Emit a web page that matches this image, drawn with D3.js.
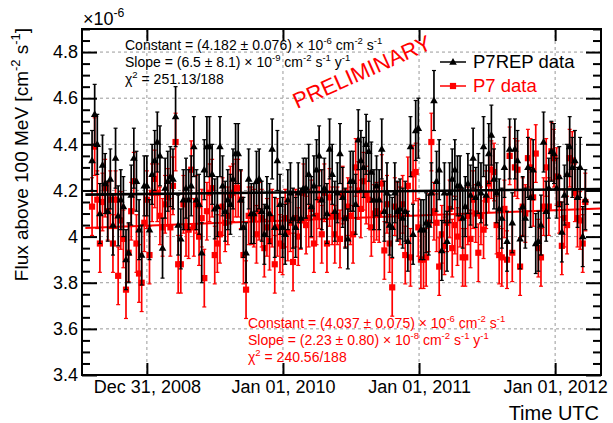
<!DOCTYPE html>
<html><head><meta charset="utf-8">
<script src="https://cdn.jsdelivr.net/npm/d3@7"></script>
<style>body{margin:0;background:#fff} svg text{font-family:"Liberation Sans",Arial,Helvetica,sans-serif}</style>
</head><body><svg id="c" width="613" height="423"></svg>
<script>
// ---- data ----
const firstBinCenter = "2008-08-07";
const binDays = 7;
const p7repFlux = [
4.33,4.53,4.40,4.10,4.31,4.23,4.11,4.25,4.05,4.34,4.09,4.16,4.13,3.90,3.93,4.18,4.34,4.24,4.03,3.92,4.22,4.22,4.03,4.27,4.33,4.41,4.35,3.95,4.21,4.24,4.26,4.25,4.52,4.05,3.99,4.16,
4.21,4.16,4.22,4.39,4.16,4.14,3.93,4.29,4.39,4.39,4.27,4.12,4.13,4.39,4.22,4.11,4.16,4.14,4.25,4.36,4.36,4.16,4.04,3.93,4.25,4.10,4.10,4.24,4.25,4.11,4.01,4.13,4.10,4.38,4.04,4.33,4.14,4.04,4.01,4.16,
4.19,4.08,4.04,4.19,4.08,4.21,4.21,4.27,4.13,4.22,4.29,4.35,4.16,4.21,4.10,4.38,4.27,4.11,4.19,4.36,4.17,4.08,3.99,4.24,4.24,4.14,4.42,4.33,4.30,4.40,4.37,4.28,4.16,4.22,4.16,4.38,4.11,4.19,4.05,4.04,
4.19,4.11,4.12,4.08,4.11,3.98,4.39,4.01,4.46,4.47,4.03,4.03,4.06,4.05,4.19,4.59,4.24,4.29,3.94,4.19,3.98,4.19,4.25,4.29,4.22,4.22,4.08,4.13,4.23,4.18,4.34,4.17,4.23,4.19,4.39,4.18,4.36,4.44,4.25,4.19,
4.12,4.08,4.30,3.98,4.38,4.06,4.38,4.33,3.99,4.13,4.08,4.30,4.17,4.29,3.97,3.98,4.05,4.41,4.11,4.21,4.37,4.36,4.21,4.26,4.02,4.18,4.27,4.39,4.30,4.33,4.17,4.30,4.00,4.16];
const p7Flux = [
4.13,4.39,4.16,3.97,4.15,4.21,4.11,4.16,3.97,4.16,3.83,4.07,3.99,3.77,3.93,4.11,4.24,3.97,3.84,3.80,4.06,4.16,3.92,4.19,4.25,4.19,4.09,4.04,4.14,4.17,4.04,4.22,4.41,3.88,3.88,4.14,
4.04,4.03,4.29,4.04,4.14,4.00,4.08,3.82,4.11,4.19,4.21,3.92,3.97,4.01,4.13,4.06,4.09,4.18,4.19,4.21,4.21,4.16,3.92,3.77,4.09,4.09,4.08,4.01,4.11,4.08,3.95,4.04,3.98,4.08,3.88,4.04,3.97,3.96,4.08,4.02,
4.06,3.89,4.08,4.00,4.07,4.19,4.05,4.08,4.12,3.97,4.09,4.16,4.01,4.19,3.97,4.17,4.09,4.01,4.09,3.99,4.18,4.08,4.13,4.09,4.01,4.30,4.20,4.12,4.24,4.18,4.16,4.04,4.10,4.11,4.10,4.23,3.94,4.14,3.97,3.78,
4.13,4.11,4.09,4.14,3.92,4.22,3.91,4.27,4.28,4.04,3.90,3.90,3.91,4.06,4.41,4.11,4.06,3.87,4.01,3.96,4.06,4.12,3.95,4.05,4.00,4.08,3.91,3.91,4.09,3.99,4.16,4.10,3.93,4.09,4.03,4.16,4.23,4.29,4.28,4.05,
3.92,3.91,4.12,3.90,4.35,3.93,4.30,4.29,3.87,4.13,4.10,4.34,4.30,4.17,4.36,3.95,3.91,4.13,4.30,4.13,4.37,4.34,4.26,4.14,3.96,4.08,4.05,4.34,4.33,4.19,4.08,4.07,3.97,4.15];
const p7repErr = 0.13;
const p7Err = 0.125;
const fitStart = "2008-07-20";
const fitEnd = "2012-05-02";
const p7repFit = [4.182, 0.0065];   // constant, slope per year (1e-6 units)
const p7Fit = [4.037, 0.0223];
const xDomain = ["2008-07-11", "2012-05-03"];
const xTickDates = ["2009-01-01","2010-01-01","2011-01-01","2012-01-01"];
const xTickLabels = ["Dec 31, 2008","Jan 01, 2010","Jan 01, 2011","Jan 01, 2012"];
const yDomain = [3.4, 4.9];
const yTicks = [3.4,3.6,3.8,4.0,4.2,4.4,4.6,4.8];
const yTickLabels = ["3.4","3.6","3.8","4","4.2","4.4","4.6","4.8"];
const yMinorTicks = d3.range(68, 99).map(v => v / 20);

// ---- layout ----
const L = 82, R = 601, T = 29, B = 375;
const svg = d3.select("#c");
const x = d3.scaleUtc().domain(xDomain.map(d => new Date(d))).range([L, R]);
const y = d3.scaleLinear().domain(yDomain).range([B, T]);
const t0 = new Date(firstBinCenter);
const dateOf = i => d3.utcDay.offset(t0, binDays * i);

// grid
const grid = svg.append("g").attr("stroke", "#9a9a9a").attr("stroke-width", 1).attr("stroke-dasharray", "3,3");
grid.selectAll(".gy").data(yTicks.filter(v => v > yDomain[0])).join("line")
  .attr("x1", L).attr("x2", R).attr("y1", d => y(d)).attr("y2", d => y(d));
grid.selectAll(".gx").data(xTickDates).join("line")
  .attr("x1", d => x(new Date(d))).attr("x2", d => x(new Date(d))).attr("y1", T).attr("y2", B);

// series drawing
function drawSeries(vals, err, color, marker, sw) {
  const g = svg.append("g");
  const pts = vals.map((v, i) => ({ d: dateOf(i), v }));
  g.selectAll("line.e").data(pts).join("line")
    .attr("x1", p => x(p.d)).attr("x2", p => x(p.d))
    .attr("y1", p => y(p.v - err)).attr("y2", p => y(p.v + err))
    .attr("stroke", color).attr("stroke-width", sw);
  [-1, 1].forEach(s => {
    g.selectAll("line.c" + s).data(pts).join("line")
      .attr("x1", p => x(p.d) - 2).attr("x2", p => x(p.d) + 2)
      .attr("y1", p => y(p.v + s * err)).attr("y2", p => y(p.v + s * err))
      .attr("stroke", color).attr("stroke-width", 1.2);
  });
  g.selectAll("path.m").data(pts).join("path")
    .attr("d", p => marker(x(p.d), y(p.v))).attr("fill", color);
}
const tri = (cx, cy) => `M${cx - 3.8},${cy + 2.7}L${cx + 3.8},${cy + 2.7}L${cx},${cy - 4}Z`;
const sq = (cx, cy) => `M${cx - 3.1},${cy - 3.1}h6.2v6.2h-6.2Z`;

function drawFit(par, color, w) {
  const a = new Date(fitStart), b = new Date(fitEnd);
  const yrs = d => (d - new Date(fitStart)) / (365.25 * 864e5);
  svg.append("line").attr("x1", x(a)).attr("x2", x(b))
    .attr("y1", y(par[0] + par[1] * yrs(a))).attr("y2", y(par[0] + par[1] * yrs(b)))
    .attr("stroke", color).attr("stroke-width", w);
}

drawSeries(p7Flux, p7Err, "#ff0000", sq, 1.7);
drawFit(p7Fit, "#ff0000", 2);
drawSeries(p7repFlux, p7repErr, "#000000", tri, 1.7);
drawFit(p7repFit, "#000000", 2.6);

// axes
const fs = 18;
svg.append("g").attr("transform", `translate(${L},0)`)
  .call(d3.axisLeft(y).tickValues(yTicks).tickSizeInner(-15).tickSizeOuter(0).tickPadding(4)
    .tickFormat((d, i) => yTickLabels[i]));
const minor = yMinorTicks.filter(v => !yTicks.some(t => Math.abs(t - v) < 1e-6));
svg.append("g").attr("transform", `translate(${L},0)`)
  .call(d3.axisLeft(y).tickValues(minor).tickSize(-8).tickFormat(""));
svg.append("g").attr("transform", `translate(${R},0)`)
  .call(d3.axisRight(y).tickValues(yTicks).tickSizeInner(-15).tickSizeOuter(0).tickFormat(""));
svg.append("g").attr("transform", `translate(${R},0)`)
  .call(d3.axisRight(y).tickValues(minor).tickSize(-8).tickFormat(""));
svg.append("g").attr("transform", `translate(0,${B})`)
  .call(d3.axisBottom(x).tickValues(xTickDates.map(d => new Date(d))).tickSizeInner(-12).tickSizeOuter(0).tickPadding(5)
    .tickFormat((d, i) => xTickLabels[i]));
svg.append("g").attr("transform", `translate(0,${T})`)
  .call(d3.axisTop(x).tickValues(xTickDates.map(d => new Date(d))).tickSizeInner(-12).tickSizeOuter(0).tickFormat(""));
svg.selectAll(".domain").remove();
svg.selectAll(".tick line").attr("stroke", "#000").attr("stroke-width", 2);
svg.selectAll(".tick text").attr("font-size", fs).attr("fill", "#000")
  .style("font-family", '"Liberation Sans",Arial,sans-serif');

// frame
svg.append("rect").attr("x", L).attr("y", T).attr("width", R - L).attr("height", B - T)
  .attr("fill", "none").attr("stroke", "#000").attr("stroke-width", 2);

// rich text helper
function rich(xp, yp, parts, size, color, anchor, transform) {
  const t = svg.append("text").attr("x", xp).attr("y", yp).attr("font-size", size).attr("fill", color)
    .attr("text-anchor", anchor || "start");
  if (transform) t.attr("transform", transform);
  let up = false;
  parts.forEach(p => {
    const sup = Array.isArray(p);
    const s = t.append("tspan").text(sup ? p[0] : p);
    if (sup) { s.attr("font-size", size * 0.68).attr("dy", -size * 0.42); up = true; }
    else if (up) { s.attr("dy", size * 0.42); up = false; }
  });
  return t;
}

// exponent
rich(83, 25, ["\u00d710", ["-6"]], 18, "#000");

// axis titles
rich(0, 0, ["Flux above 100 MeV [cm", ["-2"], " s", ["-1"], "]"], 19, "#000", "end", "translate(28,28) rotate(-90)");
rich(599, 420, ["Time UTC"], 20, "#000", "end");

// fit stat texts
const st = 14;
rich(125, 50, ["Constant = (" + p7repFit[0].toFixed(3) + " \u00b1 0.076) \u00d7 10", ["-6"], " cm", ["-2"], " s", ["-1"]], st, "#000");
rich(125, 67, ["Slope = (6.5 \u00b1 8.1) \u00d7 10", ["-9"], " cm", ["-2"], " s", ["-1"], " y", ["-1"]], st, "#000");
rich(125, 84, ["\u03c7", ["2"], " = 251.13/188"], st, "#000");
rich(248, 328, ["Constant = (" + p7Fit[0].toFixed(3) + " \u00b1 0.075) \u00d7 10", ["-6"], " cm", ["-2"], " s", ["-1"]], st, "#ff0000");
rich(248, 345, ["Slope = (2.23 \u00b1 0.80) \u00d7 10", ["-8"], " cm", ["-2"], " s", ["-1"], " y", ["-1"]], st, "#ff0000");
rich(248, 362, ["\u03c7", ["2"], " = 240.56/188"], st, "#ff0000");

// PRELIMINARY
svg.append("text").attr("transform", "translate(297,109) rotate(-24)")
  .attr("font-size", 22).attr("fill", "#ff0000").text("PRELIMINARY");

// legend
const leg = [["P7REP data", "#000", tri, 62, 68], ["P7 data", "#ff0000", sq, 86, 92]];
leg.forEach(([lab, c, m, ly, by]) => {
  svg.append("line").attr("x1", 440).attr("x2", 466).attr("y1", ly).attr("y2", ly).attr("stroke", c).attr("stroke-width", 1.5);
  svg.append("path").attr("d", m(453, ly)).attr("fill", c);
  svg.append("text").attr("x", 473).attr("y", by).attr("font-size", 18.5).attr("fill", c).text(lab);
});
</script></body></html>
